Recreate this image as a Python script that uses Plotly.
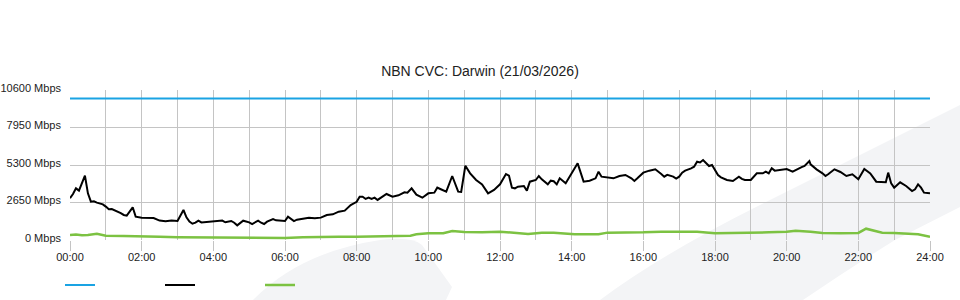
import plotly.graph_objects as go

# ---------------- data ----------------
title_text = "NBN CVC: Darwin (21/03/2026)"
y_ticks = [0, 2650, 5300, 7950, 10600]
y_tick_labels = ["0 Mbps", "2650 Mbps", "5300 Mbps", "7950 Mbps", "10600 Mbps"]
x_ticks = list(range(0, 1441, 120))
x_tick_labels = ["00:00", "02:00", "04:00", "06:00", "08:00", "10:00", "12:00",
                 "14:00", "16:00", "18:00", "20:00", "22:00", "24:00"]

capacity_min = [0, 1440]
capacity_val = [10000, 10000]

black_min = [0, 5, 10, 15, 25, 30, 35, 40, 45, 50, 55, 60, 65, 70, 75, 80, 85, 90, 95,
             105, 110, 120, 130, 140, 150, 160, 170, 180, 190, 195, 200, 205, 210, 215,
             220, 230, 235, 240, 250, 255, 260, 270, 275, 280, 290, 300, 305, 310, 315,
             320, 325, 330, 340, 345, 350, 360, 365, 370, 375, 380, 390, 400, 410, 420,
             430, 440, 450, 460, 470, 480, 485, 490, 495, 500, 505, 510, 515, 520, 530,
             540, 550, 560, 565, 572, 580, 590, 600, 610, 615, 620, 630, 640, 645, 650,
             655, 662, 670, 680, 690, 700, 710, 720, 730, 735, 740, 745, 750, 760, 765,
             770, 780, 785, 790, 800, 805, 810, 815, 820, 830, 840, 850, 860, 870, 880,
             885, 890, 900, 910, 920, 930, 940, 945, 950, 960, 970, 980, 990, 995, 1000,
             1010, 1015, 1020, 1025, 1030, 1040, 1045, 1050, 1055, 1060, 1070, 1075,
             1080, 1085, 1090, 1100, 1110, 1120, 1125, 1130, 1140, 1150, 1160, 1165,
             1170, 1175, 1180, 1190, 1200, 1210, 1220, 1225, 1230, 1238, 1240, 1250,
             1260, 1265, 1270, 1280, 1290, 1300, 1310, 1320, 1330, 1340, 1350, 1360,
             1366, 1370, 1375, 1380, 1390, 1400, 1410, 1415, 1420, 1425, 1430, 1440]
black_val = [2950, 3250, 3650, 3490, 4550, 3300, 2710, 2730, 2640, 2590, 2520, 2360, 2170,
             2190, 2100, 2030, 1900, 1770, 1720, 2310, 1650, 1580, 1580, 1555, 1370, 1320,
             1370, 1340, 2120, 1600, 1300, 1150, 1225, 1370, 1240, 1270, 1290, 1296, 1343,
             1370, 1250, 1343, 1220, 1036, 1366, 1250, 1130, 1220, 1366, 1220, 1130, 1296,
             1484, 1390, 1390, 1343, 1650, 1480, 1340, 1437, 1484, 1580, 1530, 1580, 1767,
             1814, 2000, 2073, 2473, 2700, 3060, 3060, 2900, 3000, 2900, 2990, 2830, 2950,
             3250, 3060, 3157, 3368, 3340, 3650, 3200, 2990, 3298, 3345, 3700, 3604, 3415,
             4523, 4000, 3415, 3400, 5250, 4710, 4240, 3934, 3298, 3534, 3934, 4664, 4550,
             3698, 3650, 3769, 3816, 3486, 4122, 4240, 4523, 4288, 3934, 4193, 4150, 3934,
             4358, 4005, 4759, 5418, 4122, 4193, 4358, 4829, 4476, 4429, 4358, 4523, 4593,
             4358, 4170, 4358, 4759, 4900, 4994, 4664, 4476, 4600, 4476, 4335, 4476, 4760,
             4900, 5065, 5180, 5536, 5480, 5653, 5229, 5300, 4947, 4593, 4429, 4240, 4170,
             4476, 4320, 4240, 4240, 4710, 4710, 4830, 4710, 5065, 4900, 4947, 5017, 4829,
             5065, 5150, 5229, 5583, 5347, 4994, 4710, 4523, 4664, 4994, 4806, 4523, 4640,
             4288, 5017, 4710, 4122, 4100, 4080, 4760, 4000, 3698, 4075, 3816, 3463, 3580,
             3934, 3698, 3345, 3298]

green_min = [0, 10, 20, 30, 45, 60, 90, 120, 150, 180, 210, 240, 270, 300, 330, 360, 390,
             420, 450, 480, 510, 540, 570, 580, 600, 625, 640, 660, 690, 720, 750, 767,
             790, 810, 845, 870, 885, 900, 930, 960, 990, 1020, 1050, 1080, 1110, 1140,
             1170, 1200, 1215, 1240, 1260, 1290, 1320, 1333, 1350, 1360, 1380, 1400, 1420,
             1440]
green_val = [353, 380, 340, 353, 448, 300, 283, 236, 236, 200, 188, 188, 165, 165, 118, 150,
             188, 236, 236, 236, 259, 280, 306, 400, 471, 471, 636, 560, 542, 589, 500, 424,
             520, 520, 400, 430, 410, 520, 520, 540, 589, 589, 589, 471, 480, 520, 540, 589,
             660, 589, 500, 471, 500, 800, 600, 520, 500, 470, 400, 236]

# ---------------- layout helpers ----------------
W, H = 960, 300
L, R, T, B = 70, 30, 90, 60
PW, PH = W - L - R, H - T - B


def px(x):
    return (x - L) / PW


def py(y):
    return (H - B - y) / PH


def path(points_cmds):
    out = []
    for cmd, pts in points_cmds:
        coords = " ".join(f"{px(a):.4f},{py(b):.4f}" for a, b in pts)
        out.append(f"{cmd}{coords}")
    return " ".join(out) + " Z"


band = path([("M", [(600, 300)]), ("Q", [(660, 255), (760, 205)]), ("L", [(980, 95)]),
             ("L", [(980, 197)]), ("L", [(895, 240)]), ("Q", [(850, 268), (803, 300)])])
blob = path([("M", [(253, 300)]), ("Q", [(300, 252), (380, 240)]), ("Q", [(412, 236), (422, 245)]),
             ("L", [(452, 287)]), ("L", [(446, 300)])])

fig = go.Figure()
fig.add_trace(go.Scatter(x=capacity_min, y=capacity_val, mode="lines", name=" ",
                         line=dict(color="#1aa3e3", width=2), hoverinfo="skip"))
fig.add_trace(go.Scatter(x=black_min, y=black_val, mode="lines", name=" ",
                         line=dict(color="#000000", width=2), hoverinfo="skip"))
fig.add_trace(go.Scatter(x=green_min, y=green_val, mode="lines", name=" ",
                         line=dict(color="#7cc242", width=2.5), hoverinfo="skip"))

fig.update_layout(
    width=W, height=H,
    margin=dict(l=L, r=R, t=T, b=B, pad=0, autoexpand=False),
    paper_bgcolor="#ffffff",
    plot_bgcolor="rgba(0,0,0,0)",
    font=dict(family="Liberation Sans, Arial, sans-serif", size=11, color="#222222"),
    title=dict(text=title_text, x=0.5, xref="container", xanchor="center",
               y=1 - 71 / H, yref="container", yanchor="middle",
               font=dict(size=14, color="#222222")),
    showlegend=True,
    legend=dict(orientation="h", x=px(60), xanchor="left", y=py(285), yanchor="middle",
                entrywidth=55, entrywidthmode="pixels", bgcolor="rgba(0,0,0,0)",
                font=dict(size=11), itemclick=False),
    shapes=[
        dict(type="path", path=band, xref="paper", yref="paper", layer="below",
             fillcolor="#f3f4f6", line=dict(width=0)),
        dict(type="path", path=blob, xref="paper", yref="paper", layer="below",
             fillcolor="#f3f4f6", line=dict(width=0)),
    ],
)
fig.update_xaxes(range=[0, 1440], tickvals=x_ticks, ticktext=x_tick_labels,
                 showgrid=True, gridcolor="#c4c4c4", gridwidth=1,
                 ticks="outside", ticklen=10, tickcolor="#c4c4c4", tickwidth=1,
                 showline=False, zeroline=False, automargin=False, ticklabelstandoff=-3,
                 minor=dict(tickvals=list(range(60, 1440, 120)), showgrid=True,
                            gridcolor="#c4c4c4", gridwidth=1, ticks=""),
                 fixedrange=True)
fig.update_yaxes(range=[0, 10600], tickvals=y_ticks, ticktext=y_tick_labels,
                 showgrid=True, gridcolor="#c4c4c4", gridwidth=1, automargin=False,
                 ticks="", showline=False, zeroline=False, ticklabelstandoff=8,
                 ticklabelshift=-2, fixedrange=True)

fig.write_html("out.html")
